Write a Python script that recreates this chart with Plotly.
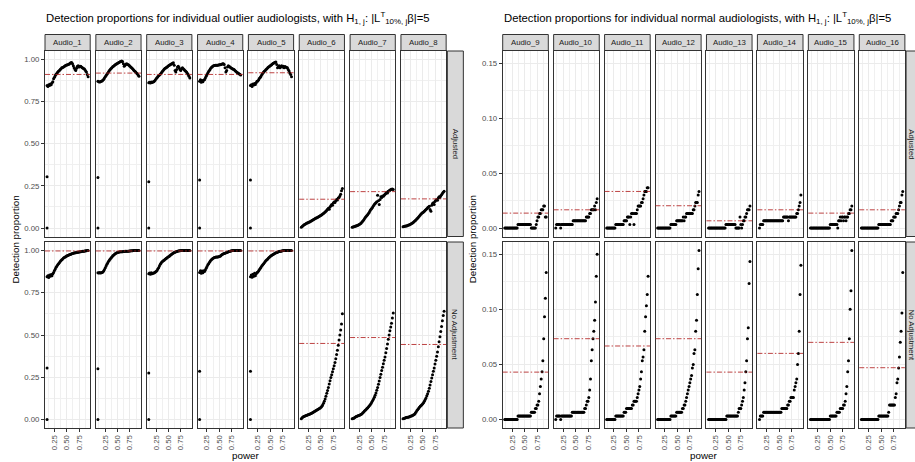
import plotly.graph_objects as go

W, H = 915, 462

# power grid shared by every audiologist
power = [0.104, 0.121, 0.137, 0.154, 0.170, 0.187, 0.203, 0.220, 0.236, 0.253,
         0.270, 0.286, 0.303, 0.319, 0.336, 0.352, 0.369, 0.385, 0.402, 0.418,
         0.435, 0.452, 0.468, 0.485, 0.501, 0.518, 0.534, 0.551, 0.567, 0.584,
         0.600, 0.617, 0.634, 0.650, 0.667, 0.683, 0.700, 0.716, 0.733, 0.749,
         0.766, 0.783, 0.799, 0.816, 0.832, 0.849, 0.865, 0.882, 0.898, 0.915,
         0.932]

outlier_ids = ["Audio_1", "Audio_2", "Audio_3", "Audio_4",
               "Audio_5", "Audio_6", "Audio_7", "Audio_8"]
normal_ids = ["Audio_9", "Audio_10", "Audio_11", "Audio_12",
              "Audio_13", "Audio_14", "Audio_15", "Audio_16"]
row_labels = ["Adjusted", "No Adjustment"]

# ---- outlier audiologists, adjusted ----
a1_adj = [0.845, 0.840, 0.850, 0.845, 0.855, 0.850, 0.860, 0.868, 0.885, 0.895,
          0.905, 0.912, 0.918, 0.925, 0.930, 0.935, 0.940, 0.945, 0.950, 0.952,
          0.955, 0.958, 0.962, 0.965, 0.967, 0.968, 0.970, 0.973, 0.977, 0.980,
          0.982, 0.975, 0.962, 0.950, 0.940, 0.935, 0.948, 0.960, 0.962, 0.955,
          0.958, 0.960, 0.955, 0.950, 0.948, 0.945, 0.940, 0.932, 0.925, 0.910,
          0.898]
a2_adj = [0.870, 0.868, 0.866, 0.868, 0.870, 0.872, 0.876, 0.882, 0.890, 0.898,
          0.905, 0.912, 0.920, 0.927, 0.934, 0.940, 0.946, 0.951, 0.956, 0.960,
          0.964, 0.968, 0.971, 0.974, 0.977, 0.980, 0.983, 0.986, 0.988, 0.990,
          0.988, 0.975, 0.960, 0.965, 0.972, 0.975, 0.972, 0.968, 0.965, 0.960,
          0.955, 0.950, 0.946, 0.940, 0.935, 0.930, 0.925, 0.920, 0.915, 0.908,
          0.900]
a3_adj = [0.862, 0.865, 0.860, 0.866, 0.863, 0.866, 0.868, 0.872, 0.878, 0.885,
          0.892, 0.898, 0.903, 0.908, 0.912, 0.918, 0.925, 0.932, 0.938, 0.943,
          0.947, 0.950, 0.954, 0.958, 0.962, 0.965, 0.968, 0.972, 0.975, 0.978,
          0.980, 0.965, 0.935, 0.925, 0.940, 0.955, 0.960, 0.950, 0.940, 0.935,
          0.945, 0.950, 0.945, 0.940, 0.935, 0.930, 0.925, 0.918, 0.910, 0.900,
          0.890]
a4_adj = [0.870, 0.880, 0.865, 0.875, 0.868, 0.878, 0.880, 0.890, 0.900, 0.910,
          0.920, 0.928, 0.936, 0.943, 0.950, 0.955, 0.960, 0.962, 0.964, 0.965,
          0.965, 0.966, 0.966, 0.967, 0.968, 0.968, 0.970, 0.972, 0.975, 0.975,
          0.970, 0.950, 0.925, 0.935, 0.955, 0.962, 0.958, 0.955, 0.950, 0.948,
          0.945, 0.942, 0.940, 0.935, 0.930, 0.925, 0.922, 0.918, 0.915, 0.912,
          0.908]
a5_adj = [0.845, 0.850, 0.840, 0.855, 0.848, 0.858, 0.852, 0.862, 0.870, 0.872,
          0.880, 0.888, 0.895, 0.902, 0.910, 0.918, 0.925, 0.930, 0.935, 0.940,
          0.945, 0.950, 0.955, 0.958, 0.962, 0.966, 0.970, 0.974, 0.978, 0.981,
          0.984, 0.985, 0.970, 0.950, 0.955, 0.962, 0.950, 0.958, 0.962, 0.955,
          0.960, 0.950, 0.958, 0.955, 0.952, 0.950, 0.940, 0.932, 0.920, 0.910,
          0.898]
a6_adj = [0.005, 0.010, 0.014, 0.018, 0.021, 0.024, 0.027, 0.030, 0.032, 0.034,
          0.036, 0.039, 0.042, 0.045, 0.048, 0.051, 0.054, 0.057, 0.059, 0.061,
          0.064, 0.067, 0.070, 0.073, 0.076, 0.079, 0.083, 0.087, 0.091, 0.095,
          0.100, 0.106, 0.112, 0.118, 0.112, 0.125, 0.132, 0.140, 0.135, 0.148,
          0.155, 0.152, 0.162, 0.170, 0.166, 0.178, 0.182, 0.190, 0.200, 0.222,
          0.235]
a7_adj = [0.005, 0.006, 0.008, 0.010, 0.012, 0.013, 0.015, 0.017, 0.020, 0.022,
          0.025, 0.030, 0.036, 0.042, 0.048, 0.055, 0.062, 0.068, 0.074, 0.080,
          0.088, 0.096, 0.104, 0.112, 0.118, 0.125, 0.132, 0.140, 0.146, 0.150,
          0.156, 0.195, 0.162, 0.140, 0.170, 0.185, 0.182, 0.190, 0.188, 0.195,
          0.200, 0.205, 0.212, 0.208, 0.218, 0.222, 0.225, 0.228, 0.230, 0.232,
          0.228]
a8_adj = [0.008, 0.010, 0.011, 0.012, 0.013, 0.014, 0.016, 0.018, 0.020, 0.022,
          0.025, 0.028, 0.032, 0.036, 0.040, 0.045, 0.050, 0.055, 0.060, 0.066,
          0.072, 0.078, 0.083, 0.088, 0.092, 0.096, 0.100, 0.105, 0.110, 0.115,
          0.120, 0.125, 0.130, 0.110, 0.100, 0.135, 0.145, 0.150, 0.140, 0.158,
          0.165, 0.170, 0.165, 0.178, 0.185, 0.182, 0.192, 0.198, 0.205, 0.212,
          0.218]

# ---- outlier audiologists, no adjustment ----
a1_none = [0.845, 0.850, 0.840, 0.855, 0.848, 0.858, 0.850, 0.862, 0.870, 0.882,
           0.890, 0.900, 0.908, 0.915, 0.922, 0.928, 0.934, 0.940, 0.945, 0.950,
           0.955, 0.958, 0.961, 0.964, 0.967, 0.970, 0.972, 0.974, 0.976, 0.978,
           0.980, 0.982, 0.984, 0.985, 0.986, 0.987, 0.988, 0.989, 0.990, 0.991,
           0.992, 0.993, 0.994, 0.995, 0.996, 0.996, 0.997, 0.998, 0.998, 0.999,
           1.000]
a2_none = [0.868, 0.866, 0.870, 0.866, 0.868, 0.870, 0.872, 0.878, 0.888, 0.898,
           0.908, 0.918, 0.928, 0.936, 0.944, 0.950, 0.956, 0.962, 0.967, 0.972,
           0.976, 0.980, 0.983, 0.986, 0.988, 0.990, 0.991, 0.992, 0.992, 0.993,
           0.993, 0.994, 0.994, 0.995, 0.995, 0.996, 0.996, 0.996, 0.997, 0.997,
           0.998, 0.998, 0.998, 0.999, 0.999, 0.999, 1.000, 1.000, 1.000, 1.000,
           1.000]
a3_none = [0.862, 0.866, 0.860, 0.868, 0.862, 0.865, 0.866, 0.868, 0.872, 0.876,
           0.882, 0.890, 0.898, 0.908, 0.918, 0.926, 0.932, 0.936, 0.940, 0.944,
           0.948, 0.952, 0.956, 0.960, 0.963, 0.966, 0.970, 0.974, 0.978, 0.982,
           0.985, 0.988, 0.990, 0.992, 0.994, 0.996, 0.997, 0.998, 0.998, 0.999,
           0.999, 1.000, 1.000, 1.000, 1.000, 1.000, 1.000, 1.000, 1.000, 1.000,
           1.000]
a4_none = [0.870, 0.880, 0.865, 0.878, 0.868, 0.880, 0.875, 0.885, 0.895, 0.905,
           0.915, 0.922, 0.930, 0.937, 0.943, 0.948, 0.952, 0.955, 0.958, 0.960,
           0.961, 0.962, 0.962, 0.963, 0.964, 0.966, 0.970, 0.974, 0.977, 0.980,
           0.982, 0.984, 0.986, 0.988, 0.990, 0.992, 0.994, 0.996, 0.997, 0.998,
           0.999, 1.000, 1.000, 1.000, 1.000, 1.000, 1.000, 1.000, 1.000, 1.000,
           1.000]
a5_none = [0.845, 0.855, 0.842, 0.860, 0.848, 0.865, 0.850, 0.862, 0.870, 0.872,
           0.880, 0.888, 0.895, 0.902, 0.910, 0.916, 0.922, 0.928, 0.934, 0.940,
           0.945, 0.950, 0.955, 0.960, 0.964, 0.968, 0.972, 0.975, 0.978, 0.981,
           0.984, 0.986, 0.988, 0.990, 0.992, 0.994, 0.995, 0.996, 0.997, 0.998,
           0.999, 1.000, 1.000, 1.000, 1.000, 1.000, 1.000, 1.000, 1.000, 1.000,
           1.000]
a6_none = [0.005, 0.010, 0.015, 0.018, 0.020, 0.022, 0.024, 0.026, 0.028, 0.030,
           0.032, 0.034, 0.036, 0.038, 0.041, 0.044, 0.047, 0.050, 0.053, 0.056,
           0.059, 0.062, 0.065, 0.068, 0.072, 0.078, 0.086, 0.096, 0.108, 0.122,
           0.138, 0.155, 0.172, 0.190, 0.210, 0.230, 0.248, 0.265, 0.282, 0.300,
           0.318, 0.338, 0.360, 0.385, 0.410, 0.440, 0.470, 0.500, 0.530, 0.565,
           0.625]
a7_none = [0.004, 0.006, 0.008, 0.012, 0.015, 0.018, 0.020, 0.022, 0.024, 0.026,
           0.028, 0.031, 0.035, 0.040, 0.045, 0.050, 0.055, 0.060, 0.065, 0.070,
           0.076, 0.082, 0.088, 0.095, 0.104, 0.113, 0.122, 0.132, 0.143, 0.157,
           0.173, 0.190, 0.208, 0.228, 0.248, 0.268, 0.290, 0.310, 0.330, 0.350,
           0.370, 0.395, 0.420, 0.447, 0.475, 0.500, 0.525, 0.548, 0.570, 0.600,
           0.630]
a8_none = [0.004, 0.006, 0.008, 0.010, 0.012, 0.013, 0.014, 0.015, 0.017, 0.019,
           0.021, 0.023, 0.025, 0.028, 0.032, 0.038, 0.045, 0.053, 0.060, 0.066,
           0.072, 0.078, 0.083, 0.088, 0.094, 0.100, 0.108, 0.118, 0.128, 0.140,
           0.152, 0.168, 0.185, 0.205, 0.225, 0.245, 0.265, 0.285, 0.305, 0.328,
           0.350, 0.375, 0.400, 0.430, 0.460, 0.490, 0.520, 0.550, 0.585, 0.615,
           0.640]

# isolated detections at the lowest power (Audio_1 .. Audio_5)
first_low = [0.000, 0.000, 0.000, 0.000, 0.000]
first_high = [0.305, 0.300, 0.275, 0.285, 0.285]

# ---- normal audiologists, adjusted ----
a9_adj = [0, 0, 0, 0, 0, 0, 0, 0, 0, 0,
          0, 0, 0, 0, 0, 0, 0.0033, 0.0033, 0.0033, 0.0033,
          0.0033, 0.0033, 0.0033, 0.0033, 0.0033, 0.0033, 0.0033, 0.0033, 0.0033, 0.0033,
          0.0033, 0.0033, 0, 0, 0, 0, 0, 0, 0.0033, 0.0067,
          0.0100, 0.0100, 0.0133, 0.0133, 0.0167, 0.0167, 0.0167, 0.0200, 0.0200, 0.0100,
          0.0100]
a10_adj = [0, 0.0033, 0.0033, 0.0033, 0.0033, 0.0033, 0, 0.0033, 0.0033, 0.0033,
           0.0033, 0.0033, 0.0033, 0.0033, 0.0033, 0.0033, 0.0033, 0.0033, 0.0033, 0.0033,
           0.0033, 0.0067, 0.0067, 0.0067, 0.0067, 0.0067, 0.0067, 0.0067, 0.0067, 0.0067,
           0.0067, 0.0067, 0.0067, 0.0067, 0.0067, 0.0067, 0.0067, 0.0100, 0.0100, 0.0100,
           0.0100, 0.0133, 0.0133, 0.0167, 0.0167, 0.0167, 0.0167, 0.0200, 0.0167, 0.0233,
           0.0267]
a11_adj = [0, 0, 0, 0, 0, 0, 0, 0, 0, 0,
           0, 0.0033, 0.0033, 0.0033, 0.0033, 0.0033, 0.0033, 0.0033, 0.0033, 0.0033,
           0.0033, 0.0067, 0.0067, 0.0067, 0.0067, 0.0100, 0.0100, 0.0100, 0.0033, 0.0100,
           0.0133, 0.0133, 0.0133, 0.0033, 0.0133, 0.0133, 0.0133, 0.0167, 0.0200, 0.0200,
           0.0200, 0.0200, 0.0233, 0.0233, 0.0267, 0.0300, 0.0333, 0.0333, 0.0333, 0.0367,
           0.0367]
a12_adj = [0, 0, 0, 0, 0, 0, 0, 0, 0, 0,
           0, 0, 0, 0, 0, 0, 0.0033, 0.0033, 0.0033, 0.0033,
           0.0033, 0.0033, 0.0033, 0.0067, 0.0067, 0.0067, 0.0067, 0.0067, 0.0067, 0.0067,
           0.0067, 0.0100, 0.0067, 0.0100, 0.0100, 0.0133, 0.0133, 0.0133, 0.0133, 0.0133,
           0.0133, 0.0133, 0.0133, 0.0167, 0.0167, 0.0200, 0.0233, 0.0233, 0.0233, 0.0300,
           0.0333]
a13_adj = [0, 0, 0, 0, 0, 0, 0, 0, 0, 0,
           0, 0, 0, 0, 0, 0, 0, 0, 0, 0,
           0, 0.0033, 0.0033, 0.0033, 0.0033, 0.0033, 0.0033, 0.0033, 0.0033, 0.0033,
           0.0033, 0.0033, 0.0033, 0, 0, 0, 0, 0, 0.0100, 0.0033,
           0, 0.0033, 0.0067, 0.0067, 0.0100, 0.0100, 0.0133, 0.0167, 0.0167, 0.0167,
           0.0200]
a14_adj = [0, 0.0033, 0.0033, 0.0033, 0.0033, 0.0067, 0.0067, 0.0067, 0.0067, 0.0067,
           0.0067, 0.0067, 0.0067, 0.0067, 0.0067, 0.0067, 0.0067, 0.0067, 0.0067, 0.0067,
           0.0067, 0.0067, 0.0067, 0.0067, 0.0067, 0.0067, 0.0067, 0.0067, 0.0067, 0.0100,
           0.0100, 0.0100, 0.0100, 0.0100, 0.0100, 0.0067, 0.0100, 0.0100, 0.0100, 0.0100,
           0.0100, 0.0100, 0.0100, 0.0100, 0.0100, 0.0133, 0.0133, 0.0167, 0.0200, 0.0233,
           0.0300]
a15_adj = [0, 0, 0, 0, 0, 0, 0, 0, 0, 0,
           0, 0, 0, 0, 0, 0, 0, 0, 0, 0,
           0, 0, 0, 0, 0.0033, 0.0033, 0.0033, 0.0033, 0.0033, 0.0033,
           0.0033, 0.0033, 0.0033, 0, 0.0067, 0.0067, 0.0100, 0.0067, 0.0100, 0.0100,
           0.0067, 0.0100, 0.0100, 0.0067, 0.0100, 0.0100, 0.0133, 0.0133, 0.0167, 0.0167,
           0.0200]
a16_adj = [0, 0, 0, 0, 0, 0, 0, 0, 0, 0,
           0, 0, 0, 0, 0, 0, 0, 0, 0, 0,
           0, 0.0033, 0.0033, 0.0033, 0.0033, 0.0033, 0.0033, 0.0033, 0.0033, 0.0033,
           0.0033, 0.0033, 0.0033, 0.0033, 0.0033, 0.0033, 0.0067, 0.0067, 0.0067, 0.0100,
           0.0100, 0.0100, 0.0133, 0.0133, 0.0133, 0.0167, 0.0200, 0.0233, 0.0233, 0.0300,
           0.0333]

# ---- normal audiologists, no adjustment ----
a9_none = [0, 0, 0, 0, 0, 0, 0, 0, 0, 0,
           0, 0, 0, 0, 0, 0, 0.0033, 0.0033, 0.0033, 0.0033,
           0.0033, 0.0033, 0.0033, 0.0033, 0.0033, 0.0033, 0.0033, 0.0033, 0.0033, 0.0033,
           0.0033, 0.0033, 0.0067, 0.0067, 0.0067, 0.0067, 0.0067, 0.0100, 0.0100, 0.0133,
           0.0133, 0.0167, 0.0233, 0.0300, 0.0367, 0.0433, 0.0533, 0.0733, 0.0933, 0.1100,
           0.1333]
a10_none = [0, 0.0033, 0.0033, 0.0033, 0.0033, 0.0033, 0, 0.0033, 0.0033, 0.0033,
            0.0033, 0.0033, 0.0033, 0.0033, 0.0033, 0.0033, 0.0033, 0.0033, 0.0033, 0.0033,
            0.0067, 0.0067, 0.0067, 0.0067, 0.0067, 0.0067, 0.0067, 0.0067, 0.0067, 0.0067,
            0.0067, 0.0067, 0.0067, 0.0067, 0.0067, 0.0100, 0.0100, 0.0133, 0.0167, 0.0167,
            0.0200, 0.0267, 0.0367, 0.0533, 0.0633, 0.0733, 0.0800, 0.0900, 0.1067, 0.1300,
            0.1500]
a11_none = [0, 0, 0, 0, 0, 0, 0, 0, 0, 0,
            0, 0.0033, 0.0033, 0.0033, 0.0033, 0.0033, 0.0033, 0.0033, 0.0033, 0.0033,
            0.0033, 0.0067, 0.0067, 0.0067, 0.0100, 0.0100, 0.0100, 0.0100, 0.0100, 0.0100,
            0.0100, 0.0133, 0.0133, 0.0167, 0.0167, 0.0167, 0.0167, 0.0200, 0.0233, 0.0267,
            0.0300, 0.0367, 0.0433, 0.0533, 0.0567, 0.0633, 0.0800, 0.0933, 0.1033, 0.1133,
            0.1300]
a12_none = [0, 0, 0, 0, 0, 0, 0, 0, 0, 0,
            0, 0, 0, 0, 0, 0, 0.0033, 0.0033, 0.0033, 0.0033,
            0.0033, 0.0033, 0.0033, 0.0067, 0.0067, 0.0067, 0.0067, 0.0067, 0.0067, 0.0067,
            0.0100, 0.0100, 0.0133, 0.0133, 0.0167, 0.0200, 0.0233, 0.0267, 0.0300, 0.0333,
            0.0367, 0.0400, 0.0467, 0.0500, 0.0600, 0.0633, 0.0800, 0.0900, 0.1133, 0.1367,
            0.1533]
a13_none = [0, 0, 0, 0, 0, 0, 0, 0, 0, 0,
            0, 0, 0, 0, 0, 0, 0, 0, 0, 0,
            0, 0, 0.0033, 0.0033, 0.0033, 0.0033, 0.0033, 0.0033, 0.0033, 0.0033,
            0.0033, 0.0033, 0.0033, 0.0033, 0.0033, 0.0033, 0.0067, 0.0100, 0.0100, 0.0100,
            0.0133, 0.0167, 0.0200, 0.0267, 0.0333, 0.0433, 0.0533, 0.0733, 0.0833, 0.1233,
            0.1433]
a14_none = [0, 0.0033, 0.0033, 0.0033, 0.0033, 0.0067, 0.0067, 0.0067, 0.0067, 0.0067,
            0.0067, 0.0067, 0.0067, 0.0067, 0.0067, 0.0067, 0.0067, 0.0067, 0.0067, 0.0067,
            0.0067, 0.0067, 0.0067, 0.0067, 0.0067, 0.0067, 0.0067, 0.0100, 0.0100, 0.0100,
            0.0100, 0.0100, 0.0100, 0.0100, 0.0133, 0.0133, 0.0167, 0.0167, 0.0200, 0.0200,
            0.0200, 0.0200, 0.0267, 0.0300, 0.0333, 0.0367, 0.0500, 0.0600, 0.0800, 0.1133,
            0.1400]
a15_none = [0, 0, 0, 0, 0, 0, 0, 0, 0, 0,
            0, 0, 0, 0, 0, 0, 0, 0, 0, 0,
            0, 0, 0, 0, 0.0033, 0.0033, 0.0033, 0.0033, 0.0033, 0.0033,
            0.0033, 0.0033, 0.0067, 0.0067, 0.0067, 0.0067, 0.0100, 0.0100, 0.0100, 0.0100,
            0.0133, 0.0133, 0.0167, 0.0233, 0.0300, 0.0433, 0.0533, 0.0733, 0.1000, 0.1167,
            0.1533]
a16_none = [0, 0, 0, 0, 0, 0, 0, 0, 0, 0,
            0, 0, 0, 0, 0, 0, 0, 0, 0, 0,
            0, 0.0033, 0.0033, 0.0033, 0.0033, 0.0033, 0.0033, 0.0033, 0.0033, 0.0033,
            0.0033, 0.0033, 0.0033, 0.0067, 0.0133, 0.0133, 0.0133, 0.0133, 0.0133, 0.0133,
            0.0133, 0.0200, 0.0233, 0.0333, 0.0367, 0.0467, 0.0567, 0.0700, 0.0800, 0.0967,
            0.1333]

# reference detection proportion per audiologist (dash-dot lines)
ref_outlier_adj = [0.911, 0.919, 0.911, 0.911, 0.921, 0.171, 0.216, 0.173]
ref_outlier_none = [0.997, 0.997, 0.997, 0.997, 0.997, 0.450, 0.485, 0.444]
ref_normal_adj = [0.0136, 0.0166, 0.0333, 0.0203, 0.0066, 0.0166, 0.0136, 0.0166]
ref_normal_none = [0.0430, 0.0733, 0.0667, 0.0733, 0.0430, 0.0600, 0.0700, 0.0470]

groups = [
    dict(ids=outlier_ids,
         rows=[[a1_adj, a2_adj, a3_adj, a4_adj, a5_adj, a6_adj, a7_adj, a8_adj],
               [a1_none, a2_none, a3_none, a4_none, a5_none, a6_none, a7_none, a8_none]],
         refs=[ref_outlier_adj, ref_outlier_none],
         title="Detection proportions for individual outlier audiologists, with "
               "H<sub>1, j</sub>: |L<sup>T</sup><sub>10%, j</sub>β|=5",
         yrange=[-0.05, 1.05],
         yticks=[0.0, 0.25, 0.5, 0.75, 1.0],
         ytext=["0.00", "0.25", "0.50", "0.75", "1.00"],
         yminor=[0.125, 0.375, 0.625, 0.875],
         left=45.0, pitch=50.85, width=45.2, strip_text_x=455.0),
    dict(ids=normal_ids,
         rows=[[a9_adj, a10_adj, a11_adj, a12_adj, a13_adj, a14_adj, a15_adj, a16_adj],
               [a9_none, a10_none, a11_none, a12_none, a13_none, a14_none, a15_none, a16_none]],
         refs=[ref_normal_adj, ref_normal_none],
         title="Detection proportions for individual normal audiologists, with "
               "H<sub>1, j</sub>: |L<sup>T</sup><sub>10%, j</sub>β|=5",
         yrange=[-0.00767, 0.161],
         yticks=[0.0, 0.05, 0.10, 0.15],
         ytext=["0.00", "0.05", "0.10", "0.15"],
         yminor=[0.025, 0.075, 0.125],
         left=502.7, pitch=50.94, width=45.6, strip_text_x=911.5),
]

FONT = "Liberation Sans, Arial, sans-serif"
row_px = [(51.0, 236.5), (242.0, 428.0)]
strip_top = (34.5, 50.5)

fig = go.Figure()
layout = dict(
    width=W, height=H, autosize=False,
    margin=dict(l=0, r=0, t=0, b=0),
    paper_bgcolor="white", plot_bgcolor="white",
    font=dict(family=FONT),
    showlegend=False,
)
shapes, annotations = [], []

axis_common = dict(
    showline=True, linecolor="#333333", linewidth=1, mirror=True,
    showgrid=True, gridcolor="#EBEBEB", gridwidth=1,
    zeroline=False, automargin=False, fixedrange=True,
    tickcolor="#333333", ticklen=3, tickwidth=1,
    tickfont=dict(size=7.8, color="#4D4D4D", family=FONT),
)

for g, grp in enumerate(groups):
    for r in range(2):
        y0px, y1px = row_px[r]
        for c in range(8):
            n = g * 16 + r * 8 + c + 1
            sfx = "" if n == 1 else str(n)
            xl = grp["left"] + grp["pitch"] * c
            xr = xl + grp["width"]
            layout["xaxis" + sfx] = dict(
                axis_common,
                domain=[xl / W, xr / W], anchor="y" + sfx,
                range=[0.0625, 0.974],
                tickmode="array", tickvals=[0.25, 0.5, 0.75],
                ticktext=["0.25", "0.50", "0.75"],
                tickangle=-90,
                showticklabels=(r == 1), ticks="outside" if r == 1 else "",
                minor=dict(tickvals=[0.125, 0.375, 0.625, 0.875], showgrid=True,
                           gridcolor="#F0F0F0", gridwidth=0.6, ticks=""),
            )
            layout["yaxis" + sfx] = dict(
                axis_common,
                domain=[1 - y1px / H, 1 - y0px / H], anchor="x" + sfx,
                range=grp["yrange"],
                tickmode="array", tickvals=grp["yticks"], ticktext=grp["ytext"],
                showticklabels=(c == 0), ticks="outside" if c == 0 else "",
                minor=dict(tickvals=grp["yminor"], showgrid=True,
                           gridcolor="#F0F0F0", gridwidth=0.6, ticks=""),
            )

            yvals = grp["rows"][r][c]
            xs, ys = list(power), list(yvals)
            if g == 0 and c < 5:
                xs = [power[0], power[0]] + xs
                ys = [first_low[c], first_high[c]] + ys
            fig.add_trace(go.Scatter(
                x=xs, y=ys, mode="markers", xaxis="x" + sfx, yaxis="y" + sfx,
                marker=dict(size=3.0, color="black", line=dict(width=0)),
                hoverinfo="skip",
            ))

            ref = grp["refs"][r][c]
            shapes.append(dict(
                type="line", xref=("x" + sfx + " domain"), x0=0, x1=1,
                yref="y" + sfx, y0=ref, y1=ref,
                line=dict(color="rgba(178,34,34,0.85)", width=1,
                          dash="5px,2px,1.5px,2px"),
            ))

            # column strip (top row only)
            if r == 0:
                shapes.append(dict(
                    type="rect", xref="paper", yref="paper",
                    x0=xl / W, x1=xr / W,
                    y0=1 - strip_top[1] / H, y1=1 - strip_top[0] / H,
                    fillcolor="#D9D9D9", line=dict(color="#333333", width=1),
                ))
                annotations.append(dict(
                    text=grp["ids"][c], xref="paper", yref="paper",
                    x=(xl + xr) / 2 / W, y=1 - sum(strip_top) / 2 / H,
                    showarrow=False, xanchor="center", yanchor="middle",
                    font=dict(size=7.8, color="#1A1A1A", family=FONT),
                ))

        # row strip on the right-hand side of each grid
        sx0 = grp["left"] + grp["pitch"] * 7 + grp["width"] + 1.2
        sx1 = sx0 + 16
        shapes.append(dict(
            type="rect", xref="paper", yref="paper",
            x0=sx0 / W, x1=sx1 / W, y0=1 - y1px / H, y1=1 - y0px / H,
            fillcolor="#D9D9D9", line=dict(color="#333333", width=1),
        ))
        annotations.append(dict(
            text=row_labels[r], xref="paper", yref="paper",
            x=grp["strip_text_x"] / W, y=1 - (y0px + y1px) / 2 / H,
            showarrow=False, textangle=90, xanchor="center", yanchor="middle",
            font=dict(size=7.8, color="#1A1A1A", family=FONT),
        ))

    # titles and axis labels of each grid
    gl = grp["left"]
    gr = grp["left"] + grp["pitch"] * 7 + grp["width"]
    annotations.append(dict(
        text=grp["title"], xref="paper", yref="paper",
        x=(gl - 1) / W, y=1 - 18.5 / H, showarrow=False,
        xanchor="left", yanchor="middle",
        font=dict(size=11.3, color="black", family=FONT),
    ))
    annotations.append(dict(
        text="power", xref="paper", yref="paper",
        x=(gl + gr) / 2 / W, y=1 - 455.5 / H, showarrow=False,
        xanchor="center", yanchor="middle",
        font=dict(size=9.8, color="black", family=FONT),
    ))
    annotations.append(dict(
        text="Detection proportion", xref="paper", yref="paper",
        x=(gl - 30) / W, y=1 - (row_px[0][0] + row_px[1][1]) / 2 / H,
        showarrow=False, textangle=-90, xanchor="center", yanchor="middle",
        font=dict(size=9.8, color="black", family=FONT),
    ))

layout["shapes"] = shapes
layout["annotations"] = annotations
fig.update_layout(**layout)
fig.write_html("out.html")
